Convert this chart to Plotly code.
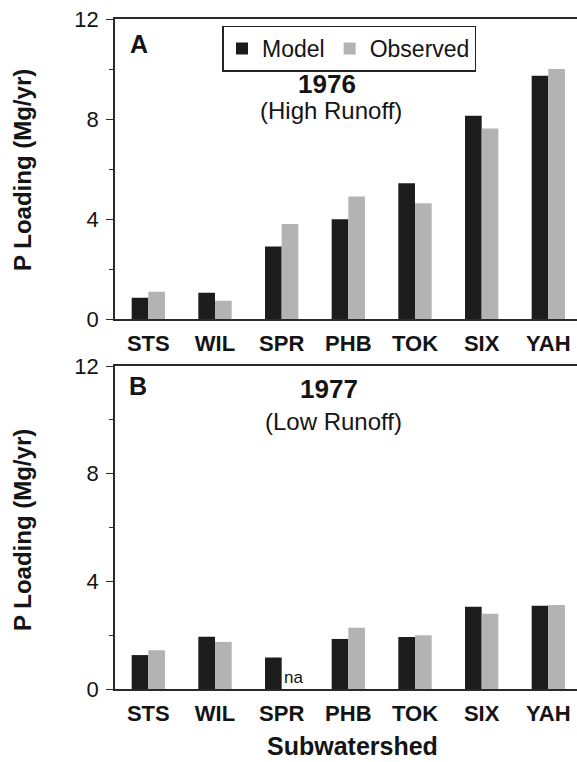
import plotly.graph_objects as go

categories = ["STS", "WIL", "SPR", "PHB", "TOK", "SIX", "YAH"]
model_1976 = [0.85, 1.05, 2.90, 3.99, 5.43, 8.13, 9.73]
observed_1976 = [1.09, 0.73, 3.80, 4.90, 4.63, 7.62, 10.0]
model_1977 = [1.26, 1.94, 1.17, 1.86, 1.93, 3.06, 3.09]
observed_1977 = [1.44, 1.75, None, 2.28, 2.00, 2.80, 3.12]
y_ticks = [0, 4, 8, 12]

W, H = 577, 762
L, R, T, B = 115, 0, 19, 73
PW, PH = W - L - R, H - T - B


def px(xp):
    return (xp - L) / PW


def py(yp):
    return (H - B - yp) / PH


FONT = "Liberation Sans, Arial, Helvetica, sans-serif"
INK = "#141414"
MODEL_C = "#1c1c1c"
OBS_C = "#b3b3b3"
AX = "#2a2a2a"

fig = go.Figure()
fig.add_trace(go.Bar(x=categories, y=model_1976, name="Model", marker=dict(color=MODEL_C, line=dict(width=0)),
                     xaxis="x", yaxis="y", legendgroup="m"))
fig.add_trace(go.Bar(x=categories, y=observed_1976, name="Observed", marker=dict(color=OBS_C, line=dict(width=0)),
                     xaxis="x", yaxis="y", legendgroup="o"))
fig.add_trace(go.Bar(x=categories, y=model_1977, name="Model", marker=dict(color=MODEL_C, line=dict(width=0)),
                     xaxis="x2", yaxis="y2", legendgroup="m", showlegend=False))
fig.add_trace(go.Bar(x=categories, y=observed_1977, name="Observed", marker=dict(color=OBS_C, line=dict(width=0)),
                     xaxis="x2", yaxis="y2", legendgroup="o", showlegend=False))

top_dom = [py(319), 1.0]
bot_dom = [0.0, py(366)]

xcommon = dict(range=[-0.5, 6.43], showline=True, linecolor=AX, linewidth=1.6, mirror=True,
               ticks="", showgrid=False, zeroline=False,
               tickfont=dict(family=FONT, size=22, color=INK, weight="bold"),
               ticklabelstandoff=4)
ycommon = dict(range=[0, 12], tickvals=y_ticks, showline=True, linecolor=AX, linewidth=1.6,
               ticks="outside", ticklen=7, tickwidth=1.4, tickcolor=AX,
               minor=dict(dtick=2, ticks="outside", ticklen=4, tickwidth=1.2, tickcolor=AX),
               showgrid=False, zeroline=False,
               tickfont=dict(family=FONT, size=22, color=INK), ticklabelstandoff=3)

fig.update_layout(
    width=W, height=H,
    margin=dict(l=L, r=R, t=T, b=B),
    paper_bgcolor="white", plot_bgcolor="white",
    barmode="group", bargap=0.5, bargroupgap=0,
    xaxis=dict(domain=[0, 1], anchor="y", **xcommon),
    yaxis=dict(domain=top_dom, anchor="x", **ycommon),
    xaxis2=dict(domain=[0, 1], anchor="y2", **xcommon),
    yaxis2=dict(domain=bot_dom, anchor="x2", **ycommon),
    showlegend=True,
    legend=dict(orientation="h", x=px(222), y=py(25.5), xanchor="left", yanchor="top",
                bordercolor="#222", borderwidth=1.5, bgcolor="white",
                font=dict(family=FONT, size=23, color=INK), itemwidth=30,
                tracegroupgap=0),
)

ann = []
ann.append(dict(text="A", x=px(128), y=py(44), xanchor="left", yanchor="middle",
                font=dict(family=FONT, size=25, color=INK, weight="bold")))
ann.append(dict(text="B", x=px(127), y=py(386), xanchor="left", yanchor="middle",
                font=dict(family=FONT, size=25, color=INK, weight="bold")))
ann.append(dict(text="1976", x=px(327), y=py(84), xanchor="center", yanchor="middle",
                font=dict(family=FONT, size=26, color=INK, weight="bold")))
ann.append(dict(text="(High Runoff)", x=px(331), y=py(111), xanchor="center", yanchor="middle",
                font=dict(family=FONT, size=24, color=INK)))
ann.append(dict(text="1977", x=px(329), y=py(389), xanchor="center", yanchor="middle",
                font=dict(family=FONT, size=26, color=INK, weight="bold")))
ann.append(dict(text="(Low Runoff)", x=px(333), y=py(422), xanchor="center", yanchor="middle",
                font=dict(family=FONT, size=24, color=INK)))
ann.append(dict(text="P Loading (Mg/yr)", x=px(22), y=py(170), xanchor="center", yanchor="middle",
                textangle=-90, font=dict(family=FONT, size=24, color=INK, weight="bold")))
ann.append(dict(text="P Loading (Mg/yr)", x=px(22), y=py(530), xanchor="center", yanchor="middle",
                textangle=-90, font=dict(family=FONT, size=24, color=INK, weight="bold")))
ann.append(dict(text="Subwatershed", x=px(352), y=py(746), xanchor="center", yanchor="middle",
                font=dict(family=FONT, size=25, color=INK, weight="bold")))
for a in ann:
    a.update(xref="paper", yref="paper", showarrow=False)
fig.update_layout(annotations=ann)
fig.add_annotation(text="na", x=categories[2], xshift=12, y=0, xref="x2", yref="y2",
                   xanchor="center", yanchor="bottom", yshift=0, showarrow=False,
                   font=dict(family=FONT, size=17, color=INK))

fig.write_html("out.html")
